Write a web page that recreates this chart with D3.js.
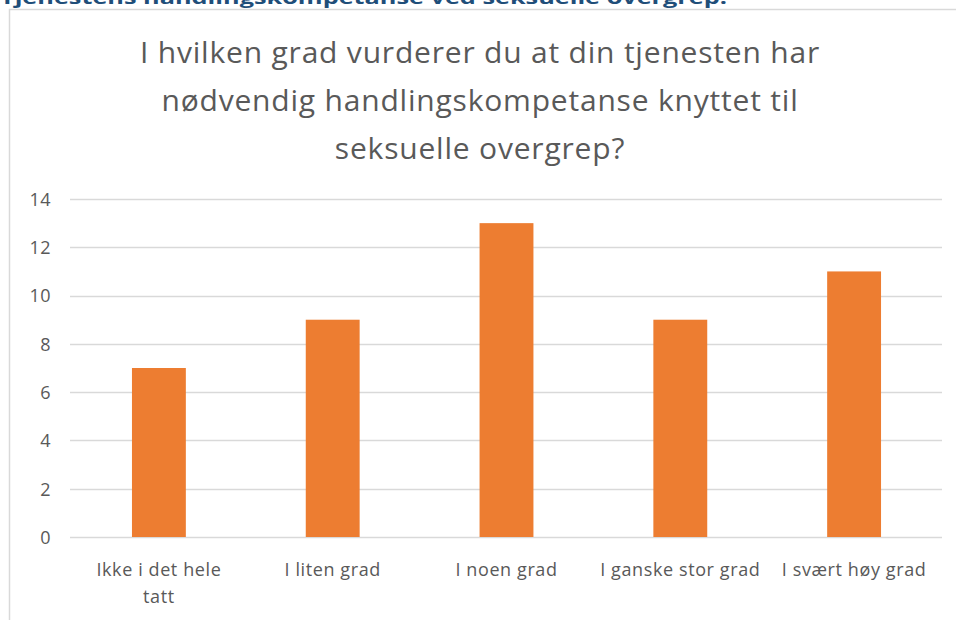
<!DOCTYPE html>
<html><head><meta charset="utf-8">
<script src="https://cdn.jsdelivr.net/npm/d3@7"></script>
<style>html,body{margin:0;padding:0;background:#fff;overflow:hidden}svg{display:block}</style>
</head><body>
<svg id="c" width="956" height="620"></svg>
<script>
const categories = [["Ikke i det hele","tatt"],["I liten grad"],["I noen grad"],["I ganske stor grad"],["I svært høy grad"]];
const values = [7, 9, 13, 9, 11];
const yTicks = [0, 2, 4, 6, 8, 10, 12, 14];
const titleLines = ["I hvilken grad vurderer du at din tjenesten har","nødvendig handlingskompetanse knyttet til","seksuelle overgrep?"];
const headerText = "Tjenestens handlingskompetanse ved seksuelle overgrep.";

const svg = d3.select("#c");
const font = "'Open Sans', sans-serif";

// header (cut off at top, as in the reference)
svg.append("text").attr("x", 0).attr("y", 4).attr("font-family", font)
  .attr("font-weight", "bold").attr("font-size", 18).attr("fill", "#1F4E79")
  .text(headerText).attr("textLength", 727).attr("lengthAdjust","spacingAndGlyphs");

// chart box
svg.append("rect").attr("x", 9.5).attr("y", 9.5).attr("width", 960).attr("height", 700)
  .attr("fill", "#fff").attr("stroke", "#d9d9d9").attr("stroke-width", 1.5);

// title
svg.append("g").selectAll("text").data(titleLines).join("text")
  .attr("x", 480).attr("y", (d,i) => 63 + i*48)
  .attr("text-anchor", "middle").attr("font-family", font).attr("font-size", 30)
  .attr("letter-spacing", 0.8)
  .attr("fill", "#595959").text(d => d);

const x = d3.scaleBand().domain(categories.map((d,i)=>i)).range([72, 941]).padding(0);
const y = d3.scaleLinear().domain([0, 14]).range([537, 199]);

// gridlines
svg.append("g").selectAll("line").data(yTicks).join("line")
  .attr("x1", 70).attr("x2", 942)
  .attr("y1", d => Math.round(y(d))+0.5).attr("y2", d => Math.round(y(d))+0.5)
  .attr("stroke", "#d9d9d9").attr("stroke-width", 1.3);

// y axis labels
const yAxis = d3.axisLeft(y).tickValues(yTicks).tickSize(0).tickPadding(0);
const ya = svg.append("g").attr("transform", "translate(51,0)").call(yAxis);
ya.select(".domain").remove();
ya.selectAll("text").attr("font-family", font).attr("font-size", 18).attr("letter-spacing", 0.5)
  .attr("fill", "#595959").attr("dy", "0.35em");

// bars
const bw = x.bandwidth() * 0.31;
svg.append("g").selectAll("rect").data(values).join("rect")
  .attr("x", (d,i) => x(i) + x.bandwidth()/2 - bw/2)
  .attr("width", bw)
  .attr("y", d => y(d)).attr("height", d => y(0) - y(d))
  .attr("fill", "#ED7D31");

// x labels
const xl = svg.append("g");
categories.forEach((lines, i) => {
  lines.forEach((t, j) => {
    xl.append("text").attr("x", x(i) + x.bandwidth()/2).attr("y", 576 + j*27)
      .attr("text-anchor", "middle").attr("font-family", font).attr("font-size", 18)
      .attr("letter-spacing", 0.6)
      .attr("fill", "#595959").text(t);
  });
});
</script>
</body></html>
